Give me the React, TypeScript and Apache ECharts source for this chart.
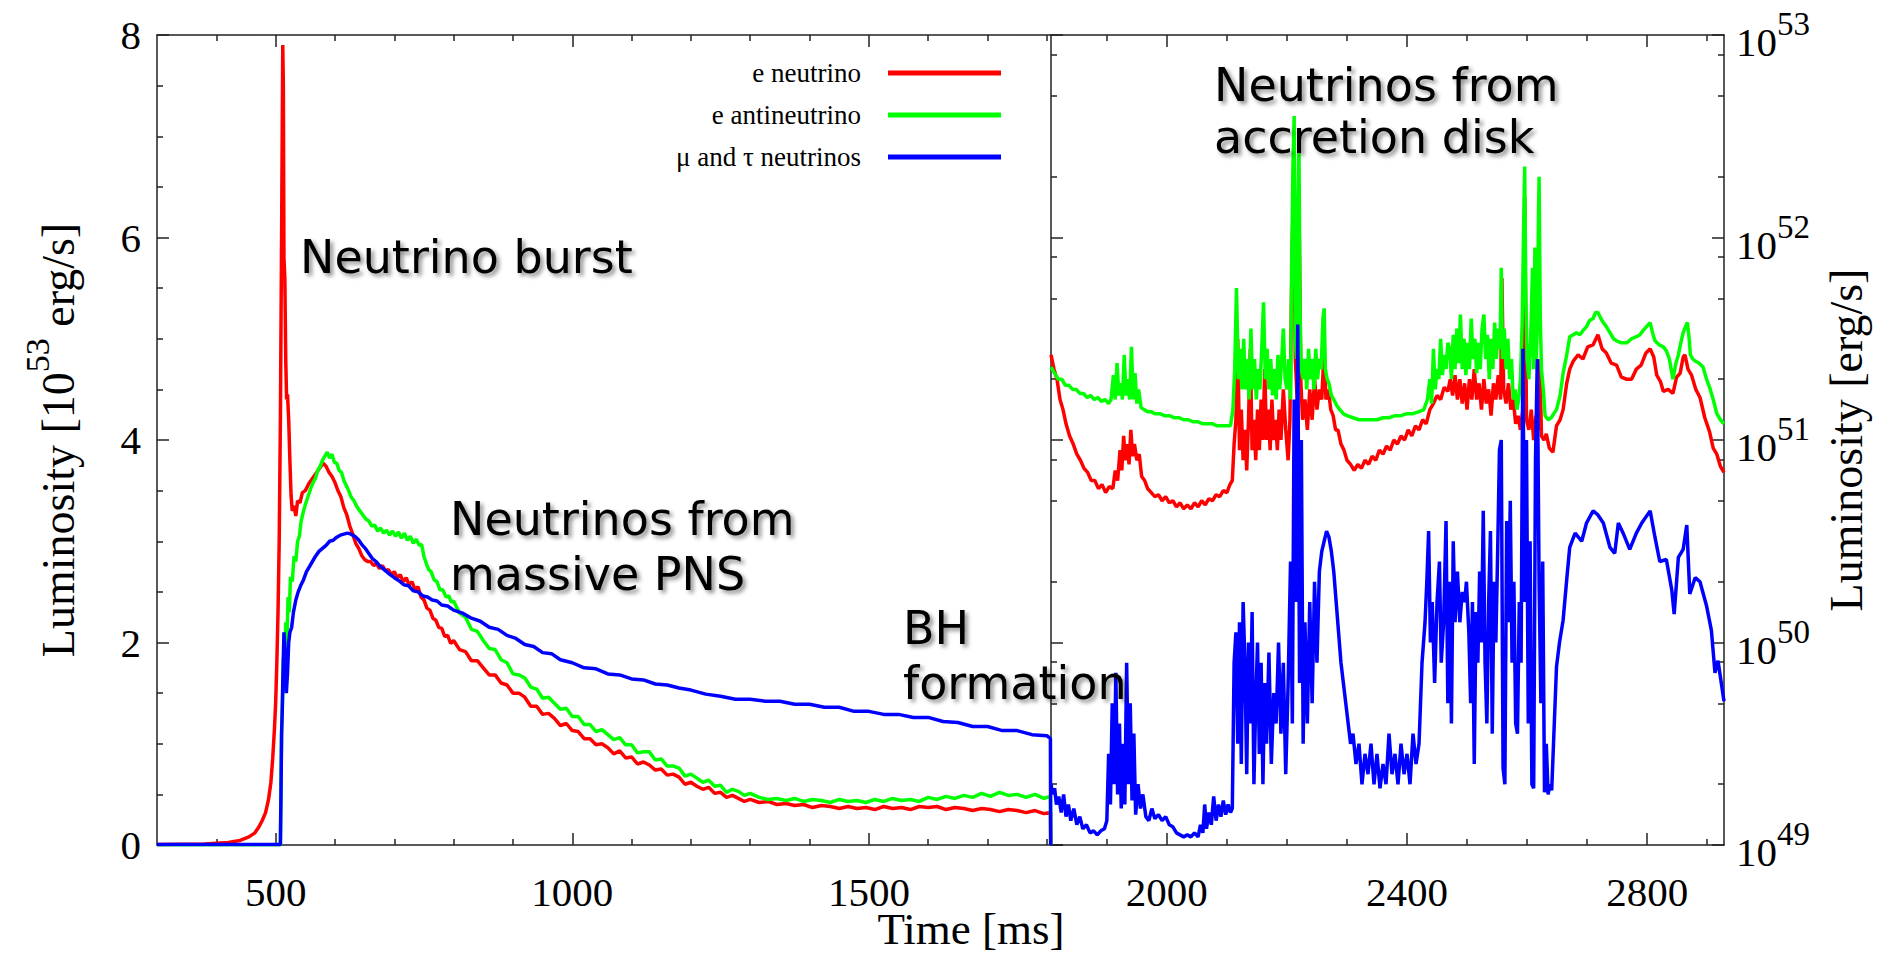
import React, { useEffect, useRef } from "react";
import * as echarts from "echarts";

// ---------------- DATA ----------------
// Left panel: time [ms], luminosity [10^53 erg/s]
const leftRed: [number, number][] = [
  [300,0.005],[380,0.01],[420,0.025],[440,0.045],[455,0.08],[465,0.12],[472,0.18],[478,0.25],[483,0.32],[488,0.45],[492,0.62],[495,0.85],[498,1.15],[500,1.4],[502,1.8],[504,2.3],[506,3.0],[508,4.2],[510,6.0],[512,7.9],[513,7.5],[514,5.8],[515.5,5.6],[517,4.8],[518.5,4.4],[520,4.45],[522,4.2],[524,3.8],[526,3.45],[528,3.3],[531,3.35],[534,3.25],[537,3.4],[541,3.38],[545,3.48],[550,3.5],[556,3.57],[562,3.62],[568,3.67],[574,3.72],[580,3.77],[585,3.74],[590,3.68],[595,3.64],[600,3.58],[605,3.5],[610,3.44],[615,3.33],[620,3.26],[625,3.15],[630,3.07],[635,2.98],[640,2.93],[645,2.86],[650,2.82],[655,2.8],[660,2.8],[665,2.76],[670,2.78],[675,2.73],[680,2.76],[685,2.71],[690,2.72],[695,2.67],[700,2.7],[705,2.64],[710,2.67],[715,2.6],[720,2.64],[725,2.57],[730,2.6],[735,2.52],[740,2.55],[745,2.45],[750,2.42],[755,2.34],[760,2.32],[765,2.24],[770,2.22],[775,2.15],[780,2.14],[785,2.06],[790,2.07],[795,1.99],
  [800,2.02],[810,1.93],[820,1.91],[830,1.82],[840,1.82],[850,1.75],[860,1.68],[870,1.68],[880,1.6],[890,1.58],[900,1.5],[910,1.5],[920,1.46],[930,1.37],[940,1.37],[950,1.29],[960,1.3],[970,1.25],[980,1.18],[990,1.2],[1000,1.13],[1010,1.12],[1020,1.05],[1030,1.05],[1040,0.99],[1050,1.0],[1060,0.96],[1070,0.9],[1080,0.93],[1090,0.86],[1100,0.87],[1110,0.8],[1120,0.82],[1130,0.79],[1140,0.74],[1150,0.75],[1160,0.69],[1170,0.7],[1180,0.67],[1190,0.6],[1200,0.62],[1210,0.58],[1220,0.55],[1230,0.57],[1240,0.51],[1250,0.52],[1260,0.47],[1270,0.49],[1280,0.46],[1290,0.43],[1300,0.45],
  [1315,0.42],[1330,0.43],[1345,0.4],[1360,0.41],[1375,0.39],[1390,0.4],[1405,0.37],[1420,0.39],[1435,0.38],[1450,0.36],[1465,0.38],[1480,0.36],[1495,0.37],[1510,0.35],[1525,0.38],[1540,0.36],[1555,0.37],[1570,0.35],[1585,0.38],[1600,0.37],[1615,0.38],[1630,0.35],[1645,0.37],[1660,0.36],[1675,0.34],[1690,0.36],[1705,0.35],[1720,0.33],[1735,0.35],[1750,0.34],[1765,0.32],[1780,0.34],[1795,0.31],[1806,0.32],[1806.5,0]
];

const leftGreen: [number, number][] = [
  [300,0.003],[508,0.003],[509,0.6],[510,1.1],[512,1.5],[513,1.85],[515,1.7],[517,2.2],[519,2.0],[521,2.45],[523,2.3],[525,2.65],[528,2.6],[531,2.85],[534,2.8],[537,3.0],[540,3.05],[543,3.2],[547,3.3],[551,3.38],[555,3.45],[559,3.52],[563,3.58],[567,3.62],[571,3.7],[575,3.74],[579,3.8],[583,3.84],[587,3.88],[591,3.82],[595,3.86],[599,3.78],[603,3.77],[607,3.7],[611,3.68],[615,3.6],[619,3.55],[623,3.5],[627,3.44],[632,3.4],[637,3.34],[642,3.3],[647,3.26],[652,3.22],[657,3.2],[662,3.15],[667,3.16],[672,3.1],[677,3.13],[682,3.08],[687,3.11],[692,3.06],[697,3.1],[702,3.05],[707,3.09],[712,3.03],[717,3.08],[722,3.01],[727,3.05],[732,2.98],[737,3.02],[742,2.96],[746,2.97],[750,2.85],[754,2.78],[758,2.72],[762,2.7],[767,2.62],[772,2.6],[777,2.52],[782,2.52],[787,2.45],[792,2.46],[796,2.4],
  [800,2.41],[810,2.29],[820,2.25],[830,2.13],[840,2.11],[850,2.02],[860,1.94],[870,1.93],[880,1.83],[890,1.8],[900,1.69],[910,1.68],[920,1.65],[930,1.56],[940,1.54],[950,1.45],[960,1.46],[970,1.4],[980,1.34],[990,1.35],[1000,1.27],[1010,1.27],[1020,1.19],[1030,1.19],[1040,1.12],[1050,1.14],[1060,1.09],[1070,1.04],[1080,1.06],[1090,0.99],[1100,0.99],[1110,0.91],[1120,0.92],[1130,0.92],[1140,0.84],[1150,0.85],[1160,0.78],[1170,0.78],[1180,0.76],[1190,0.68],[1200,0.7],[1210,0.66],[1220,0.62],[1230,0.64],[1240,0.58],[1250,0.59],[1260,0.52],[1270,0.55],[1280,0.53],[1290,0.49],[1300,0.51],
  [1315,0.47],[1330,0.45],[1345,0.46],[1360,0.44],[1375,0.46],[1390,0.43],[1405,0.45],[1420,0.44],[1435,0.42],[1450,0.45],[1465,0.43],[1480,0.44],[1495,0.42],[1510,0.45],[1525,0.43],[1540,0.46],[1555,0.44],[1570,0.45],[1585,0.43],[1600,0.47],[1615,0.45],[1630,0.48],[1645,0.46],[1660,0.49],[1675,0.47],[1690,0.51],[1705,0.48],[1720,0.52],[1735,0.49],[1750,0.5],[1765,0.47],[1780,0.5],[1795,0.46],[1806,0.48],[1806.5,0]
];

const leftBlue: [number, number][] = [
  [300,0.005],[508,0.005],[509,0.5],[510,1.1],[511,1.3],[512,1.6],[514,2.1],[516,1.9],[518,1.5],[520,1.7],[522,2.0],[524,2.1],[527,2.15],[530,2.3],[534,2.42],[538,2.5],[542,2.56],[547,2.62],[552,2.7],[557,2.75],[562,2.8],[567,2.85],[573,2.9],[579,2.93],[585,2.96],[591,3.0],[597,3.01],[603,3.04],[609,3.06],[615,3.07],[621,3.08],[627,3.07],[633,3.05],[639,3.02],[645,2.97],[651,2.93],[657,2.88],[663,2.83],[669,2.8],[675,2.76],[681,2.73],[687,2.7],[693,2.67],[700,2.64],[708,2.61],[716,2.57],[724,2.56],[732,2.51],[740,2.5],[748,2.46],[756,2.45],[764,2.42],[772,2.41],[780,2.37],[790,2.36],[800,2.32],[815,2.29],[830,2.24],[845,2.21],[860,2.15],[875,2.13],[890,2.07],[905,2.04],[920,1.98],[935,1.96],[950,1.9],[965,1.89],[980,1.83],[1000,1.8],[1020,1.75],[1040,1.74],[1060,1.69],[1080,1.68],[1100,1.64],[1120,1.63],[1140,1.59],[1160,1.58],[1180,1.55],[1200,1.53],[1225,1.49],[1250,1.47],[1275,1.44],[1300,1.44],[1325,1.42],[1350,1.42],[1375,1.39],[1400,1.39],[1425,1.36],[1450,1.36],[1475,1.32],[1500,1.32],[1525,1.29],[1550,1.29],[1575,1.26],[1600,1.26],[1625,1.22],[1650,1.21],[1675,1.17],[1700,1.17],[1725,1.13],[1750,1.13],[1775,1.09],[1800,1.08],[1806,1.05],[1806.5,0]
];

// Right panel: time [ms], log10 of luminosity [erg/s]
const rightRedExp: [number, number][] = [
  [1807,51.42],[1812,51.35],[1817,51.3],[1822,51.2],[1827,51.15],[1832,51.08],[1838,51.02],[1844,50.98],[1850,50.93],[1856,50.9],[1862,50.86],[1868,50.84],[1874,50.8],[1880,50.8],[1886,50.76],[1892,50.78],[1898,50.74],[1904,50.77],[1910,50.76],[1914,50.85],[1918,50.8],[1922,50.95],[1925,50.85],[1928,51.02],[1931,50.9],[1934,50.98],[1937,50.88],[1940,51.05],[1943,50.92],[1946,50.98],[1950,50.9],[1954,50.93],[1958,50.82],[1963,50.8],[1968,50.76],[1974,50.74],[1980,50.72],[1986,50.73],[1992,50.7],[1998,50.72],[2004,50.69],[2010,50.7],[2016,50.67],[2022,50.69],[2028,50.66],[2034,50.68],[2040,50.66],[2046,50.69],[2052,50.67],[2058,50.7],[2064,50.68],[2070,50.71],[2076,50.7],[2082,50.73],[2088,50.72],[2094,50.75],[2100,50.74],[2105,50.78],[2109,50.8],
  [2112,50.98],[2115,51.1],[2118,51.5],[2121,50.95],[2124,51.15],[2127,50.9],[2130,51.05],[2133,50.85],[2136,51.1],[2139,51.45],[2142,50.95],[2145,51.1],[2148,50.9],[2151,51.15],[2154,50.95],[2157,51.2],[2160,51.0],[2163,51.35],[2166,51.0],[2169,51.15],[2172,50.95],[2175,51.2],[2178,51.0],[2181,51.1],[2184,50.95],[2187,51.15],[2190,51.0],[2194,51.25],[2198,51.05],[2202,50.9],[2205,51.1],[2208,51.8],[2211,52.3],[2214,51.4],[2217,51.2],[2220,52.2],[2223,51.3],[2226,51.1],[2230,51.2],[2234,51.05],[2238,51.25],[2242,51.1],[2246,51.3],[2250,51.15],[2254,51.25],[2258,51.2],[2262,51.45],[2265,51.2],[2269,51.25],[2273,51.15],[2277,51.12],[2281,51.05],[2285,51.05],[2290,50.98],[2295,50.95],[2300,50.9],[2306,50.88],[2312,50.85],[2318,50.88],[2324,50.86],[2330,50.9],[2336,50.88],[2342,50.92],[2348,50.9],[2354,50.95],[2360,50.93],[2366,50.97],[2372,50.95],[2378,51.0],[2384,50.98],[2390,51.02],[2396,51.0],[2402,51.05],[2408,51.02],[2414,51.07],[2420,51.05],[2426,51.1],[2432,51.08],[2438,51.15],[2444,51.18],[2450,51.22],[2456,51.2],[2462,51.26],[2468,51.24],
  [2472,51.3],[2476,51.22],[2480,51.32],[2484,51.2],[2488,51.3],[2492,51.18],[2496,51.28],[2500,51.15],[2504,51.3],[2508,51.2],[2512,51.35],[2516,51.2],[2520,51.28],[2524,51.15],[2528,51.3],[2532,51.18],[2536,51.25],[2540,51.12],[2544,51.28],[2548,51.2],[2552,51.32],[2556,51.2],[2558,51.8],[2561,51.25],[2565,51.18],[2569,51.28],[2573,51.15],[2577,51.2],[2581,51.08],[2585,51.12],[2589,51.05],[2593,51.15],[2596,52.2],[2599,51.1],[2603,51.05],[2607,51.15],[2611,51.0],[2615,51.12],[2619,51.05],[2621,51.4],[2624,51.02],[2628,51.0],[2632,51.03],[2637,50.96],[2643,50.94],[2649,51.07],[2655,51.1],[2660,51.15],[2666,51.28],[2671,51.35],[2677,51.39],[2685,51.42],[2693,51.4],[2701,51.46],[2710,51.47],[2718,51.52],[2725,51.45],[2732,51.43],[2740,51.38],[2749,51.37],[2757,51.31],[2766,51.3],[2774,51.3],[2782,51.35],[2790,51.37],[2798,51.43],[2805,51.45],[2811,51.41],[2816,51.32],[2822,51.29],[2827,51.24],[2835,51.25],[2843,51.23],[2849,51.31],[2855,51.33],[2860,51.41],[2863,51.42],[2868,51.35],[2874,51.32],[2881,51.25],[2888,51.21],[2896,51.11],[2904,51.04],[2910,50.96],[2916,50.93],[2922,50.87],[2928,50.84]
];

const rightGreenExp: [number, number][] = [
  [1807,51.36],[1813,51.33],[1819,51.3],[1825,51.3],[1831,51.27],[1837,51.27],[1843,51.25],[1849,51.25],[1855,51.23],[1861,51.23],[1867,51.21],[1873,51.22],[1879,51.2],[1885,51.21],[1891,51.19],[1897,51.2],[1903,51.18],[1907,51.2],[1911,51.32],[1914,51.2],[1917,51.38],[1920,51.22],[1923,51.28],[1926,51.2],[1929,51.42],[1932,51.22],[1935,51.3],[1938,51.2],[1941,51.46],[1944,51.2],[1947,51.33],[1950,51.18],[1953,51.25],[1957,51.16],[1962,51.15],[1968,51.14],[1974,51.14],[1980,51.13],[1988,51.13],[1996,51.12],[2004,51.12],[2012,51.11],[2020,51.11],[2028,51.1],[2036,51.1],[2044,51.09],[2052,51.09],[2060,51.08],[2068,51.08],[2076,51.08],[2084,51.07],[2092,51.07],[2100,51.07],[2106,51.07],
  [2110,51.15],[2113,51.35],[2116,51.75],[2119,51.3],[2122,51.45],[2125,51.25],[2128,51.5],[2131,51.25],[2134,51.4],[2137,51.2],[2140,51.55],[2143,51.25],[2146,51.4],[2149,51.2],[2152,51.35],[2155,51.25],[2158,51.45],[2161,51.68],[2164,51.3],[2167,51.45],[2170,51.25],[2173,51.4],[2176,51.22],[2179,51.35],[2182,51.2],[2185,51.42],[2188,51.25],[2191,51.38],[2194,51.55],[2197,51.3],[2200,51.25],[2203,51.4],[2206,51.2],[2208,51.9],[2210,52.35],[2212,52.6],[2214,51.5],[2216,51.4],[2218,52.1],[2220,52.45],[2222,51.6],[2224,51.35],[2227,51.3],[2230,51.4],[2233,51.25],[2236,51.45],[2239,51.3],[2242,51.4],[2245,51.25],[2248,51.45],[2251,51.3],[2254,51.4],[2257,51.35],[2260,51.6],[2262,51.65],[2264,51.35],[2267,51.3],[2270,51.28],[2274,51.22],[2278,51.2],[2283,51.17],[2288,51.15],[2294,51.13],[2300,51.12],[2310,51.11],[2320,51.1],[2330,51.1],[2340,51.1],[2350,51.1],[2360,51.11],[2370,51.11],[2380,51.12],[2390,51.12],[2400,51.13],[2410,51.13],[2420,51.14],[2428,51.15],[2434,51.2],[2438,51.3],[2441,51.18],[2444,51.45],[2447,51.25],[2450,51.35],[2453,51.3],[2456,51.5],[2459,51.32],[2462,51.42],[2465,51.35],[2468,51.48],
  [2471,51.45],[2474,51.3],[2477,51.52],[2480,51.35],[2483,51.55],[2486,51.38],[2489,51.62],[2492,51.35],[2495,51.5],[2498,51.32],[2501,51.48],[2504,51.35],[2507,51.6],[2510,51.4],[2513,51.5],[2516,51.33],[2519,51.48],[2522,51.35],[2525,51.55],[2528,51.62],[2531,51.4],[2534,51.52],[2537,51.3],[2540,51.5],[2543,51.35],[2546,51.58],[2549,51.4],[2552,51.55],[2555,51.45],[2557,51.85],[2559,51.4],[2562,51.55],[2565,51.35],[2568,51.5],[2571,51.3],[2574,51.4],[2577,51.2],[2580,51.25],[2583,51.15],[2586,51.2],[2589,51.3],[2592,51.6],[2594,52.0],[2596,52.35],[2598,51.7],[2600,51.4],[2603,51.3],[2606,51.5],[2609,51.85],[2611,51.35],[2613,51.95],[2615,51.4],[2617,51.55],[2619,52.1],[2620,52.3],[2622,51.6],[2624,51.35],[2627,51.25],[2630,51.12],[2635,51.1],[2640,51.11],[2649,51.15],[2655,51.22],[2660,51.33],[2666,51.42],[2671,51.51],[2677,51.52],[2682,51.53],[2688,51.52],[2693,51.54],[2699,51.56],[2704,51.59],[2710,51.6],[2714,51.63],[2718,51.63],[2723,51.6],[2727,51.58],[2732,51.56],[2738,51.53],[2744,51.5],[2749,51.49],[2757,51.48],[2766,51.48],[2774,51.5],[2782,51.51],[2788,51.52],[2793,51.54],[2799,51.56],[2805,51.58],[2809,51.53],[2813,51.49],[2820,51.47],[2827,51.46],[2832,51.44],[2837,51.4],[2843,51.3],[2848,51.38],[2852,51.42],[2856,51.48],[2860,51.53],[2864,51.56],[2867,51.58],[2870,51.5],[2872,51.42],[2876,51.4],[2880,51.39],[2886,51.38],[2893,51.36],[2899,51.3],[2904,51.26],[2910,51.2],[2916,51.13],[2922,51.1],[2928,51.08]
];

const rightBlueExp: [number, number][] = [
  [1807,49.3],[1810,49.25],[1813,49.28],[1816,49.2],[1820,49.24],[1824,49.16],[1828,49.25],[1832,49.14],[1836,49.2],[1840,49.12],[1845,49.18],[1850,49.1],[1855,49.14],[1860,49.08],[1866,49.1],[1872,49.06],[1878,49.07],[1884,49.05],[1890,49.07],[1896,49.08],[1900,49.12],[1903,49.45],[1906,49.2],[1909,49.7],[1912,49.3],[1915,49.85],[1918,49.25],[1921,49.6],[1924,49.18],[1927,49.5],[1930,49.2],[1933,49.9],[1936,49.3],[1939,49.7],[1942,49.22],[1945,49.55],[1948,49.15],[1952,49.3],[1956,49.18],[1960,49.25],[1965,49.14],[1970,49.12],[1975,49.18],[1980,49.13],[1986,49.15],[1992,49.12],[1998,49.14],[2004,49.1],[2010,49.09],[2016,49.06],[2022,49.05],[2028,49.04],[2034,49.05],[2040,49.04],[2046,49.06],[2052,49.04],[2056,49.1],[2060,49.06],[2063,49.2],[2066,49.08],[2070,49.16],[2074,49.1],[2078,49.24],[2082,49.12],[2086,49.2],[2090,49.14],[2094,49.22],[2098,49.15],[2102,49.2],[2106,49.16],[2109,49.18],
  [2112,49.9],[2115,50.05],[2118,49.5],[2121,50.1],[2124,49.4],[2127,50.2],[2130,49.9],[2133,49.35],[2136,50.0],[2139,49.6],[2142,50.15],[2145,49.3],[2148,49.7],[2151,50.0],[2154,49.45],[2157,49.9],[2160,49.3],[2163,49.8],[2166,49.5],[2170,49.95],[2174,49.4],[2178,49.75],[2182,49.6],[2186,50.0],[2190,49.55],[2194,49.9],[2198,49.35],[2202,49.8],[2206,50.4],[2209,49.6],[2212,51.2],[2215,50.2],[2218,51.57],[2221,49.8],[2224,51.0],[2227,49.5],[2230,50.1],[2234,49.6],[2238,50.2],[2242,49.7],[2246,50.3],[2250,49.9],[2254,50.35],[2258,50.45],[2262,50.5],[2266,50.55],[2270,50.52],[2274,50.45],[2278,50.35],[2282,50.2],[2286,50.05],[2290,49.9],[2294,49.8],[2298,49.7],[2302,49.6],[2306,49.5],[2310,49.55],[2315,49.4],[2320,49.5],[2325,49.3],[2330,49.45],[2335,49.35],[2340,49.5],[2345,49.3],[2350,49.45],[2355,49.28],[2360,49.4],[2365,49.3],[2370,49.55],[2375,49.35],[2380,49.45],[2385,49.3],[2390,49.5],[2395,49.35],[2400,49.45],[2405,49.3],[2410,49.55],[2415,49.4],[2420,49.5],[2425,49.9],[2430,50.1],[2433,50.3],[2436,50.55],[2439,50.0],[2442,50.2],[2446,49.8],[2450,50.2],[2454,50.4],[2457,49.9],[2461,50.1],[2465,50.6],[2468,49.7],
  [2471,50.3],[2474,49.6],[2477,50.5],[2480,50.1],[2484,50.35],[2488,50.1],[2492,50.25],[2496,50.2],[2499,50.3],[2503,50.05],[2506,49.7],[2509,50.2],[2512,49.4],[2515,50.15],[2518,49.9],[2521,50.35],[2524,50.0],[2527,50.65],[2530,49.9],[2533,49.6],[2536,50.2],[2539,50.55],[2542,49.55],[2545,50.3],[2548,50.0],[2551,50.45],[2554,50.95],[2557,51.0],[2560,49.38],[2563,49.3],[2566,50.6],[2569,50.1],[2572,50.7],[2575,49.9],[2578,50.3],[2581,49.6],[2584,49.55],[2587,50.2],[2590,49.9],[2593,51.45],[2596,50.2],[2599,51.0],[2602,49.6],[2605,50.5],[2608,49.3],[2611,49.28],[2614,50.9],[2617,51.4],[2620,50.3],[2623,49.7],[2626,50.4],[2629,49.26],[2632,49.5],[2635,49.25],[2638,49.3],[2641,49.27],
  [2649,49.88],[2654,50.0],[2660,50.11],[2666,50.31],[2671,50.47],[2680,50.54],[2691,50.5],[2699,50.59],[2710,50.65],[2718,50.63],[2727,50.59],[2738,50.47],[2746,50.44],[2752,50.59],[2760,50.54],[2771,50.46],[2782,50.54],[2791,50.59],[2805,50.65],[2813,50.52],[2821,50.4],[2832,50.41],[2841,50.26],[2845,50.14],[2852,50.42],[2860,50.46],[2866,50.58],[2871,50.24],[2880,50.32],[2888,50.3],[2899,50.18],[2907,50.06],[2913,49.85],[2918,49.91],[2928,49.71]
];

const SERIES_NAMES = ["e neutrino", "e antineutrino", "μ and τ neutrinos"];
const SERIES_COLORS = ["#ff0000", "#00ff00", "#0000ff"];

const LEFT_X_RANGE = [300, 1807];
const RIGHT_X_RANGE = [1807, 2928];
const LEFT_MAJOR_X = [500, 1000, 1500];
const LEFT_MINOR_X = [400, 600, 700, 800, 900, 1100, 1200, 1300, 1400, 1600, 1700, 1800];
const RIGHT_MAJOR_X = [2000, 2400, 2800];
const RIGHT_MINOR_X = [1900, 2100, 2200, 2300, 2500, 2600, 2700, 2900];
const LOG_MINOR_EXP = [49.301, 49.699, 49.903, 50.301, 50.699, 50.903, 51.301, 51.699, 51.903, 52.301, 52.699, 52.903];

const ANNOTATIONS: { text: string; x: number; y: number }[] = [
  { text: "Neutrino burst", x: 300, y: 257 },
  { text: "Neutrinos from", x: 450, y: 519 },
  { text: "massive PNS", x: 450, y: 574 },
  { text: "BH", x: 903, y: 628 },
  { text: "formation", x: 903, y: 683 },
  { text: "Neutrinos from", x: 1214, y: 85 },
  { text: "accretion disk", x: 1214, y: 137 },
];

const SERIF = "'Liberation Serif', 'Times New Roman', serif";
const HAND = "'DejaVu Sans', sans-serif";
const AXIS_COLOR = "#222";

export default function App() {
  const ref = useRef<HTMLDivElement>(null);

  useEffect(() => {
    if (!ref.current) return;
    const chart = echarts.init(ref.current, undefined, { renderer: "svg" });
    const lineStyle = { color: AXIS_COLOR, width: 1.5 };

    const xAxisDef = (
      gridIndex: number,
      range: number[],
      position: string,
      ticks: number[],
      len: number,
      withLabels: boolean,
      showLine: boolean
    ) => ({
      type: "value",
      gridIndex,
      min: range[0],
      max: range[1],
      position,
      axisLine: { show: showLine, onZero: false, lineStyle },
      axisTick: { show: true, inside: true, length: len, customValues: ticks, lineStyle },
      axisLabel: withLabels
        ? {
            show: true,
            customValues: ticks,
            margin: 26,
            fontFamily: SERIF,
            fontSize: 41,
            lineHeight: 41,
            color: "#000",
            formatter: (v: number) => String(v),
          }
        : { show: false },
      splitLine: { show: false },
    });

    const logLabelRich = {
      b: { fontFamily: SERIF, fontSize: 41, color: "#000", lineHeight: 55, verticalAlign: "bottom" },
      sup: { fontFamily: SERIF, fontSize: 33, color: "#000", lineHeight: 33, verticalAlign: "top" },
    };

    const lineWidth = 3.5;
    const leftSeries = [leftRed, leftGreen, leftBlue].map((d, i) => ({
      type: "line",
      name: SERIES_NAMES[i],
      xAxisIndex: 0,
      yAxisIndex: 0,
      data: d,
      showSymbol: false,
      symbol: "none",
      color: SERIES_COLORS[i],
      lineStyle: { width: lineWidth, color: SERIES_COLORS[i] },
      z: 3 + i,
    }));
    const rightSeries = [rightRedExp, rightGreenExp, rightBlueExp].map((d, i) => ({
      type: "line",
      name: SERIES_NAMES[i],
      xAxisIndex: 4,
      yAxisIndex: 1,
      data: d.map(([t, e]) => [t, Math.pow(10, e)]),
      showSymbol: false,
      symbol: "none",
      color: SERIES_COLORS[i],
      lineStyle: { width: lineWidth, color: SERIES_COLORS[i] },
      z: 3 + i,
    }));

    const option: any = {
      animation: false,
      backgroundColor: "#fff",
      grid: [
        { left: 157, top: 35, width: 894, height: 810 },
        { left: 1051, top: 35, width: 673, height: 810 },
      ],
      xAxis: [
        xAxisDef(0, LEFT_X_RANGE, "bottom", LEFT_MAJOR_X, 12, true, true),
        xAxisDef(0, LEFT_X_RANGE, "bottom", LEFT_MINOR_X, 6, false, false),
        xAxisDef(0, LEFT_X_RANGE, "top", LEFT_MAJOR_X, 12, false, true),
        xAxisDef(0, LEFT_X_RANGE, "top", LEFT_MINOR_X, 6, false, false),
        xAxisDef(1, RIGHT_X_RANGE, "bottom", RIGHT_MAJOR_X, 12, true, true),
        xAxisDef(1, RIGHT_X_RANGE, "bottom", RIGHT_MINOR_X, 6, false, false),
        xAxisDef(1, RIGHT_X_RANGE, "top", RIGHT_MAJOR_X, 12, false, true),
        xAxisDef(1, RIGHT_X_RANGE, "top", RIGHT_MINOR_X, 6, false, false),
      ],
      yAxis: [
        {
          type: "value",
          gridIndex: 0,
          position: "left",
          min: 0,
          max: 8,
          interval: 2,
          axisLine: { show: true, onZero: false, lineStyle },
          axisTick: { show: true, inside: true, length: 12, lineStyle },
          minorTick: { show: true, splitNumber: 4, length: 6, lineStyle },
          splitLine: { show: false },
          minorSplitLine: { show: false },
          axisLabel: { margin: 16, fontFamily: SERIF, fontSize: 41, color: "#000" },
          name: "{b|Luminosity [10}{sup|53}{b| erg/s]}",
          nameLocation: "middle",
          nameRotate: 90,
          nameGap: 76,
          nameTextStyle: {
            rich: {
              b: { fontFamily: SERIF, fontSize: 46, color: "#000", lineHeight: 61, verticalAlign: "bottom" },
              sup: { fontFamily: SERIF, fontSize: 34, color: "#000", lineHeight: 34, verticalAlign: "top" },
            },
          },
        },
        {
          type: "log",
          logBase: 10,
          gridIndex: 1,
          position: "right",
          min: 1e49,
          max: 1e53,
          splitNumber: 4,
          axisLine: { show: true, onZero: false, lineStyle },
          axisTick: { show: true, inside: true, length: 12, lineStyle },
          splitLine: { show: false },
          axisLabel: {
            margin: 12,
            formatter: (v: number) => `{b|10}{sup|${Math.round(Math.log10(v))}}`,
            rich: logLabelRich,
          },
          name: "Luminosity [erg/s]",
          nameLocation: "middle",
          nameRotate: 90,
          nameGap: 94,
          nameTextStyle: { fontFamily: SERIF, fontSize: 46, color: "#000", lineHeight: 56 },
        },
        {
          type: "value",
          gridIndex: 1,
          position: "right",
          min: 49,
          max: 53,
          axisLine: { show: false, onZero: false },
          axisTick: { show: true, inside: true, length: 6, customValues: LOG_MINOR_EXP, lineStyle },
          axisLabel: { show: false },
          splitLine: { show: false },
        },
        {
          type: "log",
          logBase: 10,
          gridIndex: 1,
          position: "left",
          min: 1e49,
          max: 1e53,
          splitNumber: 4,
          axisLine: { show: true, onZero: false, lineStyle },
          axisTick: { show: true, inside: true, length: 12, lineStyle },
          axisLabel: { show: false },
          splitLine: { show: false },
        },
        {
          type: "value",
          gridIndex: 1,
          position: "left",
          min: 49,
          max: 53,
          axisLine: { show: false, onZero: false },
          axisTick: { show: true, inside: true, length: 6, customValues: LOG_MINOR_EXP, lineStyle },
          axisLabel: { show: false },
          splitLine: { show: false },
        },
      ],
      legend: {
        data: SERIES_NAMES,
        orient: "vertical",
        align: "right",
        right: 887,
        top: 53,
        itemWidth: 113,
        itemHeight: 5,
        itemGap: 12,
        icon: "rect",
        selectedMode: false,
        textStyle: {
          fontFamily: SERIF,
          fontSize: 27,
          color: "#000",
          lineHeight: 30,
          padding: [0, 22, 0, 0],
        },
      },
      graphic: [
        ...ANNOTATIONS.map((a) => ({
          type: "text",
          x: a.x,
          y: a.y,
          z: 100,
          style: {
            text: a.text,
            fontFamily: HAND,
            fontSize: 46,
            fill: "#000",
            align: "left",
            verticalAlign: "middle",
            textShadowColor: "rgba(0,0,0,0.45)",
            textShadowBlur: 4,
            textShadowOffsetX: 3,
            textShadowOffsetY: 3,
          },
        })),
        {
          type: "text",
          x: 971,
          y: 929,
          style: {
            text: "Time [ms]",
            fontFamily: SERIF,
            fontSize: 45,
            lineHeight: 44,
            fill: "#000",
            align: "center",
            verticalAlign: "middle",
          },
        },
      ],
      series: [...leftSeries, ...rightSeries],
    };

    chart.setOption(option);
    return () => chart.dispose();
  }, []);

  return (
    <div
      ref={ref}
      style={{ position: "fixed", left: 0, top: 0, width: 1893, height: 960, background: "#fff" }}
    />
  );
}
